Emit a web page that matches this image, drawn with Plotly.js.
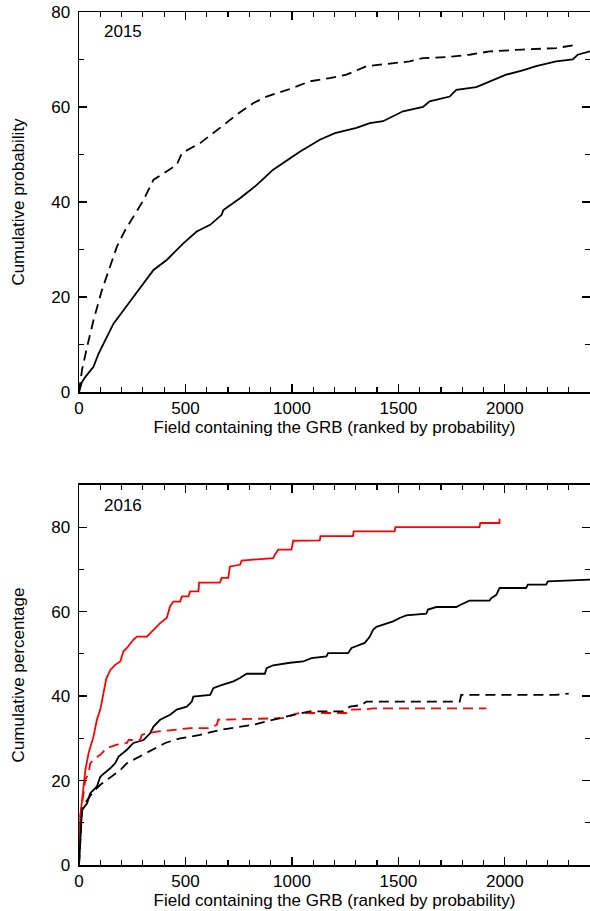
<!DOCTYPE html>
<html>
<head>
<meta charset="utf-8">
<script src="https://cdn.plot.ly/plotly-3.0.1.min.js"></script>
<style>html,body{margin:0;padding:0;background:#fff;}#chart{width:590px;height:911px;}</style>
</head>
<body>
<div id="chart"></div>
<script>
// 2015 panel
const x2015Solid = [0,14,30,68,92,131,162,209,256,303,350,412,490,553,616,670,678,756,835,912,991,1037,1131,1202,1303,1366,1428,1522,1616,1647,1741,1772,1866,1928,2006,2084,2147,2241,2319,2342,2400];
const y2015Solid = [0,2.1,3.2,5.3,8.1,11.6,14.4,17.2,20,22.9,25.7,27.8,31.3,33.8,35.2,37.3,38.3,40.8,43.6,46.8,49.3,50.6,53.1,54.5,55.6,56.6,57.0,59.1,60.0,61.2,62.2,63.6,64.2,65.4,66.8,67.7,68.6,69.6,70.0,71.0,71.7];
const x2015Dash = [0,14,38,68,108,147,178,217,256,303,350,397,459,483,569,662,741,818,881,991,1084,1178,1256,1350,1459,1553,1616,1725,1834,1928,2084,2241,2335];
const y2015Dash = [0,4.6,9.5,15.1,21.5,26.4,30.6,34.1,36.9,40.4,44.7,46.1,47.8,50.3,52.4,55.6,58.4,60.8,62.2,63.8,65.4,66.1,66.8,68.6,69.1,69.6,70.3,70.5,71.0,71.7,72.1,72.4,73.1];
// 2016 panel
const x2016RedSolid = [0,6,30,45,68,84,100,115,128,147,170,194,209,225,256,272,319,350,381,412,428,443,475,483,514,522,561,564,662,670,701,709,756,764,912,920,936,998,1006,1131,1134,1287,1290,1483,1486,1881,1885,1975,1975];
const y2016RedSolid = [0,11.5,22.5,26.5,30.4,34.4,36.8,41,44.1,46.2,47.4,48.2,50.6,51.4,53.4,54.1,54.1,55.7,57.3,58.5,61.3,62.4,62.4,63.6,63.6,64.8,64.8,66.9,66.9,68.0,68.0,70.7,71.1,72.1,72.7,73.5,74.7,74.7,76.8,76.9,77.9,77.9,79.0,79.0,80.0,80.0,81.0,81.0,82.0];
const x2016BlackSolid = [0,14,38,53,84,100,108,147,170,186,225,256,303,334,350,381,428,459,506,530,537,616,631,662,725,756,787,873,881,912,991,1053,1092,1162,1170,1264,1280,1342,1366,1381,1397,1444,1475,1506,1537,1631,1639,1678,1772,1795,1834,1928,1936,1960,1975,2100,2108,2194,2202,2400];
const y2016BlackSolid = [0,13.0,14.6,17.0,18.6,20.9,21.3,22.9,24.1,25.7,27.3,28.9,29.6,31.2,32.8,34.4,35.6,36.8,37.5,38.7,39.9,40.3,41.9,42.5,43.5,44.3,45.3,45.3,46.6,47.3,47.9,48.2,49.0,49.4,50.2,50.2,51.4,52.6,54.1,55.7,56.4,57.2,57.7,58.5,59.1,59.5,60.5,61.1,61.1,61.7,62.6,62.6,63.2,64.0,65.6,65.6,66.4,66.4,67.2,67.6];
const x2016RedDash = [0,6,30,45,53,76,100,131,178,225,233,287,295,319,366,459,522,608,647,654,975,1006,1037,1256,1264,1350,1381,1913];
const y2016RedDash = [0,11.5,20.2,21.7,24.1,25.3,26.1,27.7,28.5,28.9,29.6,29.6,30.8,31.2,31.6,32.0,32.4,32.4,33.2,34.4,34.8,35.6,36.0,36.0,36.8,36.9,37.1,37.1];
const x2016BlackDash = [0,14,38,68,100,131,162,194,225,287,350,405,475,569,662,818,881,991,1084,1240,1272,1327,1350,1788,1795,2241,2300];
const y2016BlackDash = [0,13.0,15.4,17.4,19.0,20.2,21.3,22.5,24.1,25.7,27.3,28.9,30.0,30.8,32.0,33.2,34.0,35.4,36.4,36.4,37.5,37.9,38.7,38.7,40.3,40.3,40.6];

const panelLabels = ['2015','2016'];
const xTitle = 'Field containing the GRB (ranked by probability)';
const yTitleTop = 'Cumulative probability';
const yTitleBottom = 'Cumulative percentage';

const DASH = '10px,6px';
function tr(x, y, color, dash, xa, ya) {
  return {x: x, y: y, xaxis: xa, yaxis: ya, type: 'scatter', mode: 'lines',
    line: {color: color, width: 1.8, dash: dash}, hoverinfo: 'skip', showlegend: false};
}
const data = [
  tr(x2015Solid, y2015Solid, '#000', 'solid', 'x', 'y'),
  tr(x2015Dash, y2015Dash, '#000', DASH, 'x', 'y'),
  tr(x2016RedSolid, y2016RedSolid, '#ff0000', 'solid', 'x2', 'y2'),
  tr(x2016BlackSolid, y2016BlackSolid, '#000', 'solid', 'x2', 'y2'),
  tr(x2016RedDash, y2016RedDash, '#ff0000', DASH, 'x2', 'y2'),
  tr(x2016BlackDash, y2016BlackDash, '#000', DASH, 'x2', 'y2')
];

const FONT = 'Liberation Sans, Arial, sans-serif';
function xax(anchor) {
  return {anchor: anchor, range: [0, 2400], dtick: 500, tick0: 0, ticks: 'inside', ticklen: 8, tickwidth: 1.3,
    tickcolor: '#000', showline: true, linecolor: '#000', linewidth: 1.5, mirror: 'ticks',
    showgrid: false, zeroline: false, tickfont: {family: FONT, size: 17, color: '#000'}, ticklabelstandoff: 0,
    minor: {dtick: 100, tick0: 0, ticks: 'inside', ticklen: 5, tickwidth: 1.2, tickcolor: '#000', showgrid: false},
    title: {text: xTitle, font: {family: FONT, size: 17, color: '#000'}, standoff: 1}};
}
function yax(anchor, domain, maxv, title) {
  return {anchor: anchor, domain: domain, range: [0, maxv], dtick: 20, tick0: 0, ticks: 'inside', ticklen: 8, tickwidth: 1.3,
    tickcolor: '#000', showline: true, linecolor: '#000', linewidth: 1.5, mirror: 'ticks',
    showgrid: false, zeroline: false, tickfont: {family: FONT, size: 17, color: '#000'}, ticklabelstandoff: 4,
    minor: {dtick: 10, tick0: 0, ticks: 'inside', ticklen: 5, tickwidth: 1.2, tickcolor: '#000', showgrid: false},
    title: {text: title, font: {family: FONT, size: 17, color: '#000'}, standoff: 22}};
}
const layout = {
  width: 590, height: 911,
  margin: {l: 79, r: 0, t: 12, b: 46},
  paper_bgcolor: '#fff', plot_bgcolor: '#fff',
  xaxis: xax('y'),
  yaxis: yax('x', [0.5545, 1], 80, yTitleTop),
  xaxis2: xax('y2'),
  yaxis2: yax('x2', [0, 0.4455], 90, yTitleBottom),
  annotations: [
    {text: panelLabels[0], xref: 'x domain', yref: 'y domain', x: 0.045, y: 0.95, xanchor: 'left', yanchor: 'middle', showarrow: false, font: {family: FONT, size: 17, color: '#000'}},
    {text: panelLabels[1], xref: 'x2 domain', yref: 'y2 domain', x: 0.045, y: 0.947, xanchor: 'left', yanchor: 'middle', showarrow: false, font: {family: FONT, size: 17, color: '#000'}}
  ]
};
Plotly.newPlot('chart', data, layout, {displayModeBar: false, staticPlot: true});
</script>
</body>
</html>
